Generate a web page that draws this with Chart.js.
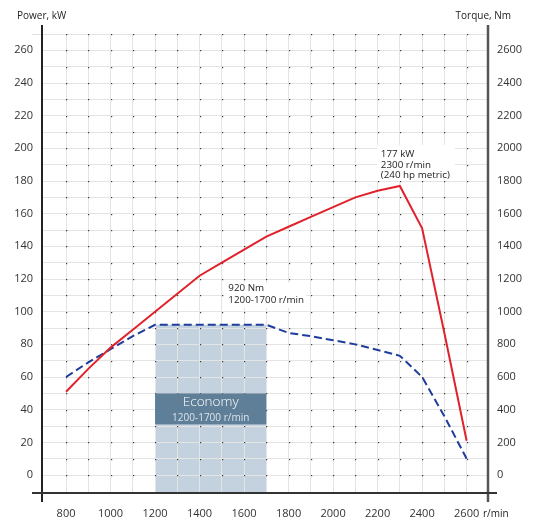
<!DOCTYPE html>
<html>
<head>
<meta charset="utf-8">
<script src="https://cdn.jsdelivr.net/npm/chart.js@4.4.1/dist/chart.umd.min.js"></script>
<style>
  html, body { margin: 0; padding: 0; background: #fff; }
</style>
</head>
<body>
<canvas id="engineChart" width="544" height="531"></canvas>
<script>
// engine speed, r/min
var rpmSteps = [800, 900, 1000, 1100, 1200, 1300, 1400, 1500, 1600, 1700, 1800, 1900, 2000, 2100, 2200, 2300, 2400, 2500, 2600];
// power, kW
var powerKw = [51, 65, 78, 89, 100, 111, 122, 130, 138, 146, 152, 158, 164, 170, 174, 177, 151, 87, 21];
// torque, Nm
var torqueNm = [600, 690, 770, 850, 920, 920, 920, 920, 920, 920, 870, 850, 825, 800, 765, 730, 600, 360, 100];

var rpmTicks = [800, 900, 1000, 1100, 1200, 1300, 1400, 1500, 1600, 1700, 1800, 1900, 2000, 2100, 2200, 2300, 2400, 2500, 2600];
var powerTicks = [0, 10, 20, 30, 40, 50, 60, 70, 80, 90, 100, 110, 120, 130, 140, 150, 160, 170, 180, 190, 200, 210, 220, 230, 240, 250, 260, 270];
var torqueTicks = [0, 200, 400, 600, 800, 1000, 1200, 1400, 1600, 1800, 2000, 2200, 2400, 2600];

var economyRange = [1200, 1700];
var economyTorque = 920;
var peakRpm = 2300;
var peakKw = 177;

var FONT = "'Open Sans', 'Noto Sans', sans-serif";

function toPoints(xs, ys) {
  var pts = [];
  for (var i = 0; i < xs.length; i++) {
    pts.push({ x: xs[i], y: ys[i] });
  }
  return pts;
}

function setTicks(list) {
  return function (scale) {
    scale.ticks = list.map(function (v) { return { value: v }; });
  };
}

function y2Pixel(chart, v) {
  return chart.scales.y2.getPixelForValue(v);
}

var decorPlugin = {
  id: 'decor',
  beforeDraw: function (chart) {
    // light economy band, under the grid
    var ctx = chart.ctx;
    var x = chart.scales.x, area = chart.chartArea;
    var left = x.getPixelForValue(economyRange[0]);
    var right = x.getPixelForValue(economyRange[1]);
    var top = y2Pixel(chart, economyTorque);
    ctx.save();
    ctx.fillStyle = '#c4d2df';
    ctx.fillRect(left, top, right - left, area.bottom - top);
    ctx.restore();
  },
  beforeDatasetsDraw: function (chart) {
    var ctx = chart.ctx;
    var x = chart.scales.x, y = chart.scales.y, area = chart.chartArea;
    ctx.save();

    // top grid line runs out past the axis
    ctx.strokeStyle = '#e2e2e2';
    ctx.lineWidth = 1;
    var topY = Math.round(y.getPixelForValue(powerTicks[powerTicks.length - 1])) + 0.5;
    ctx.beginPath();
    ctx.moveTo(area.left - 10, topY);
    ctx.lineTo(area.left, topY);
    ctx.stroke();

    // dots on grid crossings
    ctx.fillStyle = '#3a3a3a';
    for (var i = 0; i < rpmTicks.length; i++) {
      for (var j = 0; j < powerTicks.length; j++) {
        var px = Math.round(x.getPixelForValue(rpmTicks[i]));
        var py = Math.round(y.getPixelForValue(powerTicks[j]));
        ctx.fillRect(px, py, 1.2, 1.2);
      }
    }

    // dark economy label box
    var left = x.getPixelForValue(economyRange[0]);
    var right = x.getPixelForValue(economyRange[1]);
    var bTop = y.getPixelForValue(50);
    var bBot = y.getPixelForValue(31);
    ctx.fillStyle = '#5f7f99';
    ctx.fillRect(left, bTop, right - left, bBot - bTop);

    // white backing for the notes
    ctx.fillStyle = '#fff';
    var pkX = x.getPixelForValue(peakRpm);
    var pkY = y.getPixelForValue(peakKw);
    ctx.fillRect(pkX - 23, pkY - 41, 78, 36);
    var nX = x.getPixelForValue(economyRange[1]);
    var nY = y2Pixel(chart, economyTorque);
    ctx.fillRect(nX - 42, nY - 42, 82, 25);

    // axis lines
    ctx.lineCap = 'butt';
    ctx.strokeStyle = '#222';
    ctx.lineWidth = 2;
    ctx.beginPath();
    ctx.moveTo(area.left, area.top - 9);
    ctx.lineTo(area.left, area.bottom + 9);
    ctx.stroke();
    ctx.strokeStyle = '#555';
    ctx.lineWidth = 2.5;
    ctx.beginPath();
    ctx.moveTo(area.right, area.top - 9);
    ctx.lineTo(area.right, area.bottom + 9);
    ctx.stroke();
    ctx.strokeStyle = '#333';
    ctx.lineWidth = 2;
    ctx.beginPath();
    ctx.moveTo(area.left - 10, area.bottom);
    ctx.lineTo(area.right + 9, area.bottom);
    ctx.stroke();
    ctx.restore();
  },
  afterDatasetsDraw: function (chart) {
    var ctx = chart.ctx;
    var x = chart.scales.x, y = chart.scales.y, area = chart.chartArea;
    ctx.save();
    ctx.textBaseline = 'middle';

    // economy box text
    var cx = (x.getPixelForValue(economyRange[0]) + x.getPixelForValue(economyRange[1])) / 2;
    ctx.textAlign = 'center';
    ctx.fillStyle = '#ffffff';
    ctx.font = '300 13.5px ' + FONT;
    ctx.fillText('Economy', cx, y.getPixelForValue(44.5));
    ctx.fillStyle = '#dbe3ea';
    ctx.font = '10px ' + FONT;
    ctx.fillText(economyRange[0] + '-' + economyRange[1] + ' r/min', cx, y.getPixelForValue(35));

    // notes
    ctx.textAlign = 'left';
    ctx.fillStyle = '#222';
    ctx.font = '9.8px ' + FONT;
    var pkX = x.getPixelForValue(peakRpm);
    var pkY = y.getPixelForValue(peakKw);
    ctx.fillText(peakKw + ' kW', pkX - 19, pkY - 32);
    ctx.fillText(peakRpm + ' r/min', pkX - 19, pkY - 21);
    ctx.fillText('(240 hp metric)', pkX - 19, pkY - 11);
    var nX = x.getPixelForValue(economyRange[1]);
    var nY = y2Pixel(chart, economyTorque);
    ctx.fillText(economyTorque + ' Nm', nX - 38, nY - 37);
    ctx.fillText(economyRange[0] + '-' + economyRange[1] + ' r/min', nX - 38, nY - 25);

    // axis titles
    ctx.font = '10px ' + FONT;
    ctx.fillStyle = '#222';
    ctx.textAlign = 'left';
    ctx.fillText('Power, kW', 17, 16);
    ctx.textAlign = 'right';
    ctx.fillText('Torque, Nm', 511, 16);
    ctx.textAlign = 'left';
    ctx.fillText('r/min', area.right - 5, 514);
    ctx.restore();
  }
};

var tickFont = { family: FONT, size: 11 };

new Chart(document.getElementById('engineChart'), {
  type: 'line',
  data: {
    datasets: [
      {
        label: 'Power, kW',
        data: toPoints(rpmSteps, powerKw),
        yAxisID: 'y',
        borderColor: '#e0222c',
        borderWidth: 2,
        pointRadius: 0,
        tension: 0,
        fill: false
      },
      {
        label: 'Torque, Nm',
        data: toPoints(rpmSteps, torqueNm),
        yAxisID: 'y2',
        borderColor: '#1f3d9a',
        borderWidth: 2,
        borderDash: [8, 4],
        pointRadius: 0,
        tension: 0,
        fill: false
      }
    ]
  },
  options: {
    responsive: false,
    animation: false,
    devicePixelRatio: 1,
    layout: { padding: { top: 34, left: 0, right: 0, bottom: 0 } },
    plugins: {
      legend: { display: false },
      tooltip: { enabled: false }
    },
    scales: {
      x: {
        type: 'linear',
        min: 692,
        max: 2696,
        afterBuildTicks: setTicks(rpmTicks),
        afterFit: function (s) { s.height = 38; },
        border: { display: false },
        grid: { color: '#e4e4e4', lineWidth: 1, drawTicks: false },
        ticks: {
          autoSkip: false,
          maxRotation: 0,
          padding: 14,
          color: '#333',
          font: tickFont,
          callback: function (v) { return v % 200 === 0 ? String(v) : ''; }
        }
      },
      y: {
        position: 'left',
        min: -11,
        max: 270,
        afterBuildTicks: setTicks(powerTicks),
        afterFit: function (s) { s.width = 42; },
        border: { display: false },
        grid: { color: '#e4e4e4', lineWidth: 1, drawTicks: false },
        ticks: {
          padding: 9,
          color: '#333',
          font: tickFont,
          callback: function (v) { return (v % 20 === 0 && v <= 260) ? String(v) : ''; }
        }
      },
      y2: {
        position: 'right',
        min: -110,
        max: 2700,
        afterBuildTicks: setTicks(torqueTicks),
        afterFit: function (s) { s.width = 56; },
        border: { display: false },
        grid: { display: false, drawTicks: false },
        ticks: {
          padding: 9,
          color: '#333',
          font: tickFont,
          callback: function (v) { return String(v); }
        }
      }
    }
  },
  plugins: [decorPlugin]
});
</script>
</body>
</html>
